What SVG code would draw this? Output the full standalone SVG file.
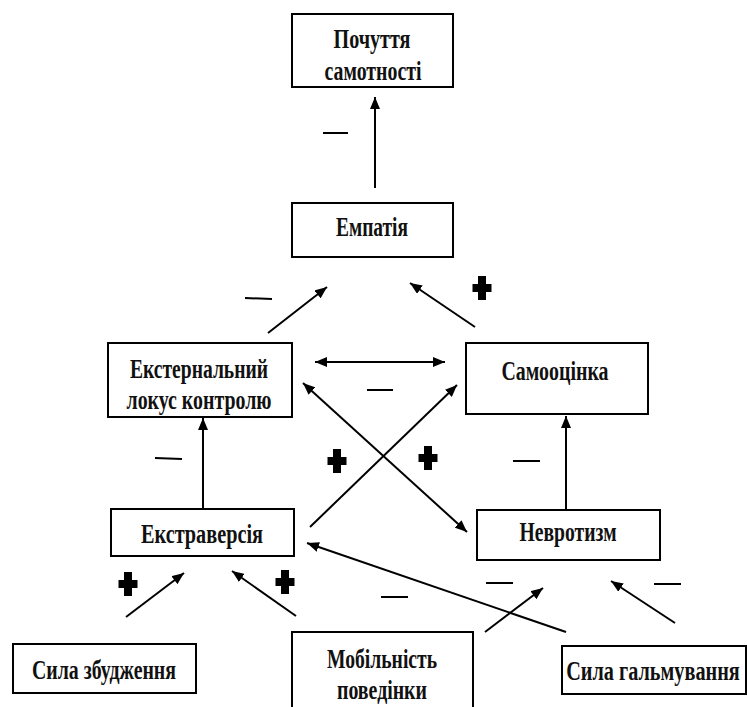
<svg xmlns="http://www.w3.org/2000/svg" width="747" height="707" viewBox="0 0 747 707">
<style>
.box{fill:#fff;stroke:#000;stroke-width:2}
.t{font-family:"Liberation Serif","Times New Roman",serif;font-weight:bold;font-size:27px;fill:#111;text-anchor:middle}
.c{stroke:#000;stroke-width:2;fill:none}
.m{stroke:#000;stroke-width:2}
.p{fill:#000}
</style>
<defs>
<marker id="ah" viewBox="0 0 12 10" refX="12" refY="5" markerWidth="12" markerHeight="10" markerUnits="userSpaceOnUse" orient="auto-start-reverse">
<path d="M0,0 L12,5 L0,10 z" fill="#000"/>
</marker>
<path id="plus" d="M-4,-12 h8 v8 h5.5 v8 h-5.5 v8 h-8 v-8 h-5.5 v-8 h5.5 z"/>
</defs>
<rect width="747" height="707" fill="#fff"/>

<g id="node-loneliness">
<rect class="box" x="292" y="14" width="161" height="73"/>
<text class="t" x="372" y="48" textLength="77" lengthAdjust="spacingAndGlyphs">Почуття</text>
<text class="t" x="373" y="80" textLength="97" lengthAdjust="spacingAndGlyphs">самотності</text>
</g>
<g id="node-empathy">
<rect class="box" x="292" y="203" width="161" height="54"/>
<text class="t" x="372" y="236" textLength="72" lengthAdjust="spacingAndGlyphs">Емпатія</text>
</g>
<g id="node-locus">
<rect class="box" x="108" y="343" width="184" height="74"/>
<text class="t" x="199" y="378" textLength="138" lengthAdjust="spacingAndGlyphs">Екстернальний</text>
<text class="t" x="199" y="409" textLength="145" lengthAdjust="spacingAndGlyphs">локус контролю</text>
</g>
<g id="node-selfesteem">
<rect class="box" x="466" y="343" width="182" height="71"/>
<text class="t" x="555" y="380" textLength="107" lengthAdjust="spacingAndGlyphs">Самооцінка</text>
</g>
<g id="node-extraversion">
<rect class="box" x="111" y="509" width="183" height="47"/>
<text class="t" x="202" y="543" textLength="122" lengthAdjust="spacingAndGlyphs">Екстраверсія</text>
</g>
<g id="node-neuroticism">
<rect class="box" x="477" y="510" width="183" height="50"/>
<text class="t" x="568" y="541" textLength="97" lengthAdjust="spacingAndGlyphs">Невротизм</text>
</g>
<g id="node-excitation">
<rect class="box" x="13" y="644" width="183" height="49"/>
<text class="t" x="104" y="679" textLength="144" lengthAdjust="spacingAndGlyphs">Сила збудження</text>
</g>
<g id="node-mobility">
<rect class="box" x="292" y="632" width="181" height="90"/>
<text class="t" x="382" y="668" textLength="110" lengthAdjust="spacingAndGlyphs">Мобільність</text>
<text class="t" x="382" y="699" textLength="90" lengthAdjust="spacingAndGlyphs">поведінки</text>
</g>
<g id="node-inhibition">
<rect class="box" x="562" y="646" width="184" height="48"/>
<text class="t" transform="translate(653,680) scale(0.8,1)" x="0" y="0" textLength="217" lengthAdjust="spacingAndGlyphs">Сила гальмування</text>
</g>

<g id="connectors">
<line class="c" x1="375" y1="188" x2="375" y2="97" marker-end="url(#ah)"/>
<line class="c" x1="268" y1="333" x2="327" y2="287" marker-end="url(#ah)"/>
<line class="c" x1="475" y1="327" x2="410" y2="283" marker-end="url(#ah)"/>
<line class="c" x1="315" y1="362" x2="445" y2="362" marker-start="url(#ah)" marker-end="url(#ah)"/>
<line class="c" x1="310" y1="527" x2="457" y2="385" marker-end="url(#ah)"/>
<line class="c" x1="303" y1="383" x2="467" y2="532" marker-start="url(#ah)" marker-end="url(#ah)"/>
<line class="c" x1="203" y1="510" x2="203" y2="418" marker-end="url(#ah)"/>
<line class="c" x1="566" y1="510" x2="566" y2="416" marker-end="url(#ah)"/>
<line class="c" x1="126" y1="617" x2="184" y2="573" marker-end="url(#ah)"/>
<line class="c" x1="296" y1="616" x2="232" y2="571" marker-end="url(#ah)"/>
<line class="c" x1="566" y1="632" x2="307" y2="543" marker-end="url(#ah)"/>
<line class="c" x1="485" y1="632" x2="543" y2="588" marker-end="url(#ah)"/>
<line class="c" x1="675" y1="623" x2="611" y2="581" marker-end="url(#ah)"/>
</g>

<g id="signs">
<line class="m" x1="323" y1="133" x2="348" y2="133"/>
<line class="m" x1="245" y1="298" x2="272" y2="299"/>
<line class="m" x1="367" y1="390" x2="393" y2="390"/>
<line class="m" x1="155" y1="458" x2="182" y2="459"/>
<line class="m" x1="513" y1="461" x2="540" y2="461"/>
<line class="m" x1="381" y1="597" x2="408" y2="597"/>
<line class="m" x1="486" y1="583" x2="513" y2="583"/>
<line class="m" x1="654" y1="584" x2="681" y2="584"/>
<use href="#plus" class="p" x="482" y="288"/>
<use href="#plus" class="p" x="337" y="461"/>
<use href="#plus" class="p" x="428" y="458"/>
<use href="#plus" class="p" x="128" y="584"/>
<use href="#plus" class="p" x="285" y="582"/>
</g>
</svg>
